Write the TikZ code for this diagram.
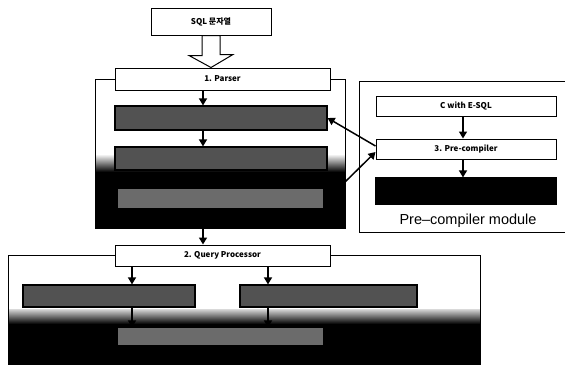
\documentclass[tikz,border=0pt]{standalone}
\usepackage{fontspec}
\newfontfamily\krfont{Noto Sans CJK KR}
\newfontfamily\modfont{Liberation Sans}
\usetikzlibrary{arrows.meta,calc}

\begin{document}
\begin{tikzpicture}[x=1pt,y=-1pt,
  lbox/.style={draw,line width=1pt,fill=white,inner sep=0pt,font=\krfont\bfseries\fontsize{8}{9}\selectfont},
  dbox/.style={draw,line width=1.2pt,fill=black!68,inner sep=0pt},
  arr/.style={line width=1.5pt,-{Triangle[length=7pt,width=8pt]}},
  frm/.style={line width=1pt}]
\useasboundingbox (0,0) rectangle (565,365);
% helper x positions of the down arrows
\coordinate (pa) at (203,0);
\coordinate (pc) at (463,0);
\coordinate (qa) at (132,0);
\coordinate (qb) at (268,0);
% parser frame: grey fade into black in its lower half
\shade[top color=white,bottom color=black] (95,154) rectangle (345,172);
\fill[black] (95,172) rectangle (345,228);
\coordinate (pfl) at (95,228);
\coordinate (pfr) at (345,228);
\coordinate (pside) at (345,182);
% query processor frame, same fade at the bottom
\shade[top color=black!15,bottom color=black] (8,309) rectangle (480,324);
\fill[black] (8,324) rectangle (480,364);
\coordinate (qfl) at (8,364);
\coordinate (qfr) at (480,364);
% pre-compiler frame (runs off the right edge)
\draw[frm] (567,81) -| (359,232) -- (567,232);
\node[lbox,minimum width=120pt,minimum height=27pt] (sql) at (211,21.5) {SQL 문자열};
\node[lbox,minimum width=215pt,minimum height=22pt] (parser) at (222.5,79) {1. Parser};
\node[dbox,minimum width=212pt,minimum height=24pt] (pbox1) at (221,118) {};
\node[dbox,minimum width=212pt,minimum height=23pt] (pbox2) at (221,158.5) {};
\node[dbox,draw=none,fill=black!58,minimum width=205pt,minimum height=19pt] (pbox3) at (220.5,198.5) {};
\node[lbox,minimum width=215pt,minimum height=21pt] (qp) at (222.5,255.5) {2. Query Processor};
\node[dbox,minimum width=172pt,minimum height=22pt] (qbox1) at (109,296) {};
\node[dbox,minimum width=177pt,minimum height=22pt] (qbox2) at (328.5,296) {};
\node[dbox,draw=none,fill=black!58,minimum width=205pt,minimum height=17pt] (qbox3) at (220.5,336.5) {};
\node[lbox,minimum width=180pt,minimum height=20pt] (esql) at (466,106) {C with E-SQL};
\node[lbox,minimum width=180pt,minimum height=20pt] (pcomp) at (466,149) {3. Pre-compiler};
\node[dbox,fill=black,minimum width=180pt,minimum height=26pt] (pout) at (466,191) {};
\node[font=\modfont\fontsize{14.5}{16}\selectfont] (pmod) at (468,221) {Pre–compiler module};
% frames hooked onto the stage boxes
\draw[frm] (parser.west) -| (pfl) -- (pfr) |- (parser.east);
\draw[frm] (qp.west) -| (qfl) -- (qfr) |- (qp.east);
% hollow arrow from the SQL string into the parser
\draw[line width=1pt,fill=white] ($(sql.south)+(-9,0)$) -- ++(0,20) -- ++(-13,0) -- (sql.south |- parser.north) -- ++(22,-13) -- ++(-13,0) -- ($(sql.south)+(9,0)$) -- cycle;
\draw[arr] (parser.south -| pa) -- (pbox1.north -| pa);
\draw[arr] (pbox1.south -| pa) -- (pbox2.north -| pa);
\draw[arr] (pfl -| pa) -- (qp.north -| pa);
\draw[arr] (qp.south -| qa) -- (qbox1.north -| qa);
\draw[arr] (qp.south -| qb) -- (qbox2.north -| qb);
\draw[arr] (qbox1.south -| qa) -- (qbox3.north -| qa);
\draw[arr] (qbox2.south -| qb) -- (qbox3.north -| qb);
\draw[arr] (esql.south -| pc) -- (pcomp.north -| pc);
\draw[arr] (pcomp.south -| pc) -- (pout.north -| pc);
% links between parser and pre-compiler
\draw[arr] ([yshift=3pt]pcomp.west) -- (pbox1.east);
\draw[arr] (pside) -- ([yshift=-3pt]pcomp.west);
\end{tikzpicture}
\end{document}
